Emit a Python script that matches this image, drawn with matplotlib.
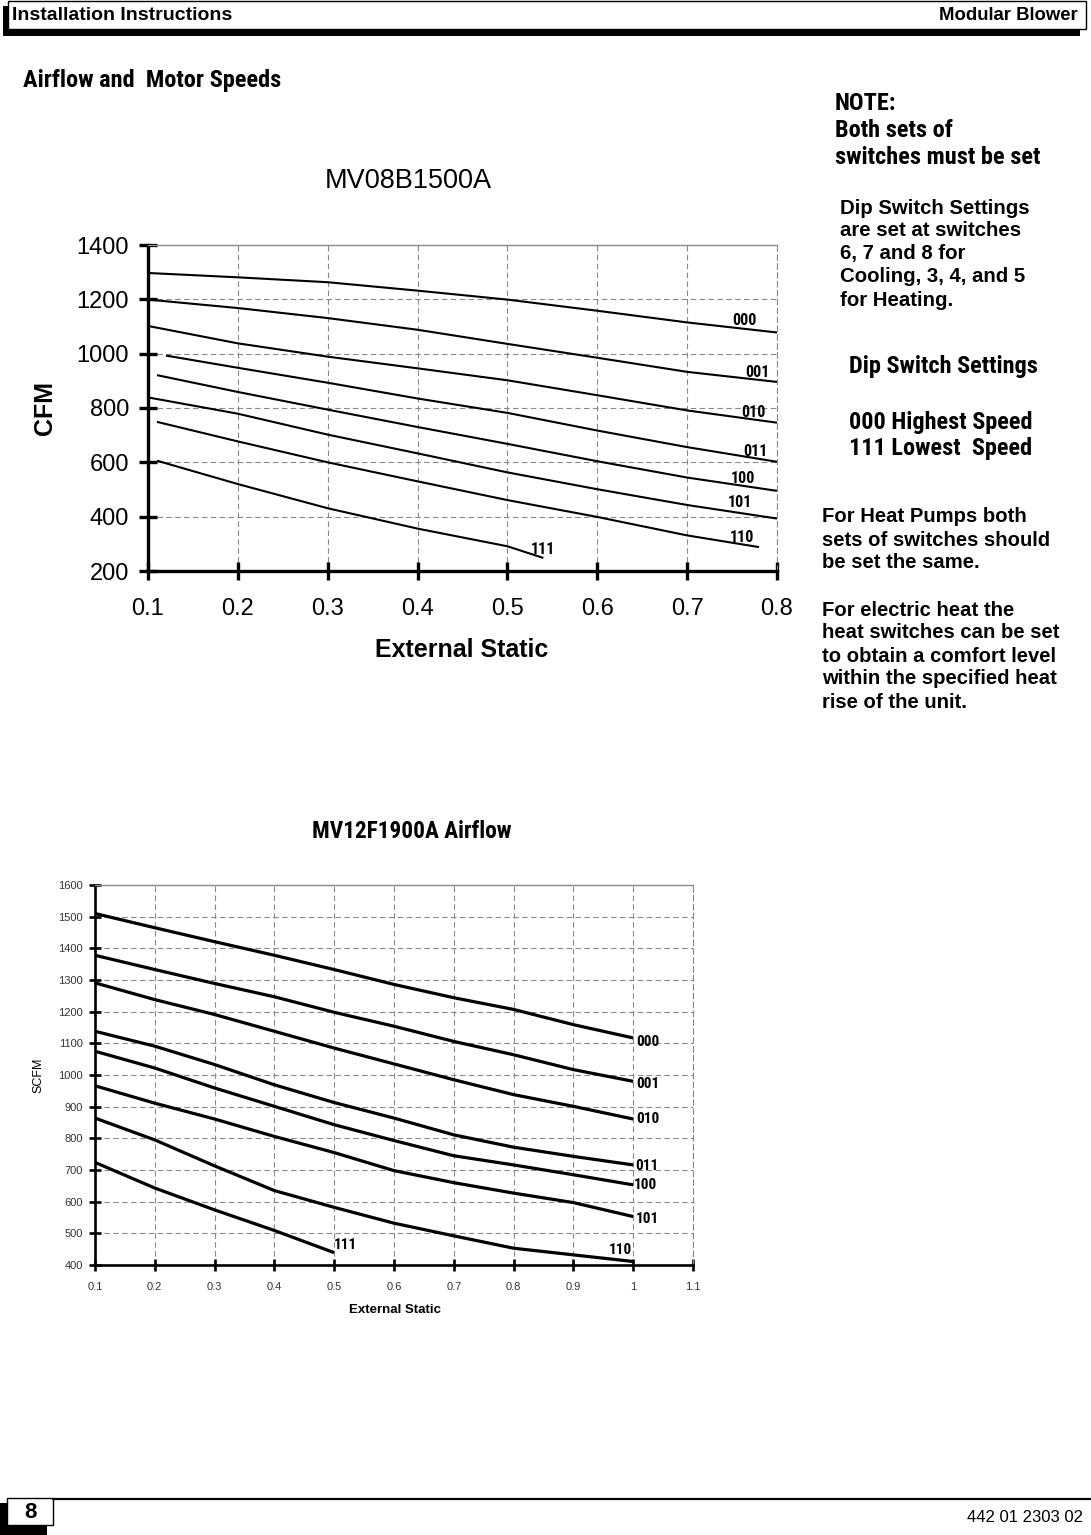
import matplotlib
matplotlib.use('Agg')
import matplotlib.pyplot as plt
from matplotlib import font_manager
from matplotlib.patches import Rectangle

# ---- data: MV08B1500A (CFM vs external static)
top_x = [0.1, 0.2, 0.3, 0.4, 0.5, 0.6, 0.7, 0.8]
top_000 = [1297, 1281, 1263, 1232, 1199, 1158, 1115, 1078]
top_001 = [1199, 1168, 1131, 1088, 1036, 985, 933, 896]
top_010 = [1102, 1038, 989, 946, 902, 847, 791, 746]
top_011_x = [0.12, 0.2, 0.3, 0.4, 0.5, 0.6, 0.7, 0.8]
top_011 = [993, 948, 893, 835, 782, 717, 656, 602]
top_100_x = [0.11, 0.2, 0.3, 0.4, 0.5, 0.6, 0.7, 0.8]
top_100 = [921, 859, 794, 730, 668, 604, 544, 495]
top_101 = [839, 779, 702, 633, 563, 501, 443, 393]
top_110_x = [0.11, 0.2, 0.3, 0.4, 0.5, 0.6, 0.7, 0.78]
top_110 = [749, 677, 600, 530, 461, 399, 331, 288]
top_111_x = [0.11, 0.2, 0.3, 0.4, 0.5, 0.54]
top_111 = [606, 520, 431, 356, 291, 248]

# ---- data: MV12F1900A (SCFM vs external static)
bot_x = [0.1, 0.2, 0.3, 0.4, 0.5, 0.6, 0.7, 0.8, 0.9, 1.0]
bot_000 = [1510, 1465, 1421, 1378, 1333, 1286, 1244, 1207, 1159, 1117]
bot_001 = [1378, 1333, 1289, 1247, 1198, 1154, 1106, 1064, 1017, 980]
bot_010 = [1291, 1238, 1191, 1138, 1085, 1035, 985, 938, 901, 861]
bot_011 = [1138, 1091, 1033, 969, 913, 864, 811, 772, 743, 716]
bot_100 = [1075, 1022, 959, 901, 843, 793, 745, 716, 685, 653]
bot_101 = [966, 911, 861, 806, 755, 698, 660, 627, 597, 553]
bot_110 = [864, 795, 713, 635, 582, 532, 492, 453, 432, 411]
bot_111_x = [0.1, 0.2, 0.3, 0.4, 0.5]
bot_111 = [724, 643, 574, 509, 439]

top_xticks = [0.1, 0.2, 0.3, 0.4, 0.5, 0.6, 0.7, 0.8]
top_yticks = [200, 400, 600, 800, 1000, 1200, 1400]
bot_xticks = [0.1, 0.2, 0.3, 0.4, 0.5, 0.6, 0.7, 0.8, 0.9, 1.0, 1.1]
bot_xticklabels = ['0.1', '0.2', '0.3', '0.4', '0.5', '0.6', '0.7', '0.8', '0.9', '1', '1.1']
bot_yticks = list(range(400, 1700, 100))

names = {f.name for f in font_manager.fontManager.ttflist}
SANS = 'Liberation Sans' if 'Liberation Sans' in names else 'DejaVu Sans'

# look for a condensed bold face; sizes below are tuned for Liberation Sans Bold
NARROW, STRETCH, CF = SANS, 'normal', 1.0
for nm, fac in [('Liberation Sans Narrow', 1.2), ('Arial Narrow', 1.2), ('Roboto Condensed', 1.15),
                ('Noto Sans Condensed', 1.12), ('Open Sans Condensed', 1.1)]:
    if nm in names:
        NARROW, CF = nm, fac
        break
else:
    for f in font_manager.fontManager.ttflist:
        if f.name == 'DejaVu Sans' and 'condensed' in str(f.stretch):
            NARROW, STRETCH, CF = 'DejaVu Sans', 'condensed', 1.0
            break
plt.rcParams['font.family'] = SANS


def ctext(ax, x, y, s, size, **kw):
    ax.text(x, y, s, family=NARROW, fontstretch=STRETCH, fontsize=size * CF, fontweight='bold', **kw)


W, H = 1091, 1535
fig = plt.figure(figsize=(W / 100, H / 100), dpi=100)

# page layer in pixel coordinates
pg = fig.add_axes([0, 0, 1, 1], zorder=0)
pg.set_xlim(0, W)
pg.set_ylim(H, 0)
pg.axis('off')

# header bar
pg.add_patch(Rectangle((3, 6), 1077, 30, facecolor='black', edgecolor='none'))
pg.add_patch(Rectangle((8, 1), 1078, 28, facecolor='white', edgecolor='black', lw=1))
pg.text(12, 15, 'Installation Instructions', fontsize=14, fontweight='bold', va='center')
pg.text(1078, 15, 'Modular Blower', fontsize=13.3, fontweight='bold', va='center', ha='right')

# footer
pg.plot([53, W], [1499, 1499], color='black', lw=1.6)
pg.add_patch(Rectangle((0, 1503), 47, 32, facecolor='black', edgecolor='none'))
pg.add_patch(Rectangle((7, 1498), 46, 27, facecolor='white', edgecolor='black', lw=1))
pg.text(30, 1512, '8', fontsize=16, fontweight='bold', ha='center', va='center')
pg.text(1083, 1518, '442 01 2303 02', fontsize=12, ha='right', va='center')

ctext(pg, 23, 80, 'Airflow and  Motor Speeds', 15.3, va='center')

# right column notes
for i, s in enumerate(['NOTE:', 'Both sets of', 'switches must be set']):
    ctext(pg, 835, 103 + i * 27.5, s, 15.3, va='center')
for i, s in enumerate(['Dip Switch Settings', 'are set at switches', '6, 7 and 8 for',
                       'Cooling, 3, 4, and 5', 'for Heating.']):
    pg.text(840, 208 + i * 23, s, fontsize=14.7, fontweight='bold', va='center')
ctext(pg, 849, 366, 'Dip Switch Settings', 15.2, va='center')
ctext(pg, 849, 422, '000 Highest Speed', 15.2, va='center')
ctext(pg, 849, 449, '111 Lowest  Speed', 15.2, va='center')
for i, s in enumerate(['For Heat Pumps both', 'sets of switches should', 'be set the same.']):
    pg.text(822, 517 + i * 23, s, fontsize=14.6, fontweight='bold', va='center')
for i, s in enumerate(['For electric heat the', 'heat switches can be set', 'to obtain a comfort level',
                       'within the specified heat', 'rise of the unit.']):
    pg.text(822, 610 + i * 23, s, fontsize=14.6, fontweight='bold', va='center')

# chart titles / axis labels
pg.text(408, 181, 'MV08B1500A', fontsize=19.5, ha='center', va='center')
pg.text(45, 408, 'CFM', fontsize=18, fontweight='bold', rotation=90, ha='center', va='center')
pg.text(462, 650, 'External Static', fontsize=18, fontweight='bold', ha='center', va='center')
ctext(pg, 412, 832, 'MV12F1900A Airflow', 14.6, ha='center', va='center')
pg.text(38, 1075, 'SCFM', fontsize=9, rotation=90, ha='center', va='center')
pg.text(395, 1310, 'External Static', fontsize=9.5, fontweight='bold', ha='center', va='center')


def box(l, t, r, b):
    return [l / W, 1 - b / H, (r - l) / W, (b - t) / H]


def style(ax, spw, tlen, tsize, pad):
    ax.grid(True, linestyle=(0, (5, 3)), color='#8a8a8a', linewidth=0.8)
    ax.set_axisbelow(True)
    for s in ('left', 'bottom'):
        ax.spines[s].set_linewidth(spw)
        ax.spines[s].set_color('black')
    ax.spines['top'].set_linestyle((0, (1, 1)))
    ax.spines['top'].set_color('#8a8a8a')
    ax.spines['top'].set_linewidth(1.0)
    ax.spines['right'].set_linestyle((0, (5, 3)))
    ax.spines['right'].set_color('#8a8a8a')
    ax.spines['right'].set_linewidth(0.8)
    ax.tick_params(direction='inout', length=tlen, width=spw, labelsize=tsize, pad=pad)
    ax.set_facecolor('none')


# ---- top chart
ax1 = fig.add_axes(box(148, 245, 777, 571), zorder=1)
ax1.set_xlim(0.1, 0.8)
ax1.set_ylim(200, 1400)
ax1.set_xticks(top_xticks)
ax1.set_xticklabels(['%.1f' % v for v in top_xticks])
ax1.set_yticks(top_yticks)
style(ax1, 2.4, 13, 17, 7)
ax1.tick_params(axis='x', pad=13)
top_series = [
    (top_x, top_000, '000', (-33, 12)),
    (top_x, top_001, '001', (-20, 9)),
    (top_x, top_010, '010', (-24, 10)),
    (top_011_x, top_011, '011', (-22, 10)),
    (top_100_x, top_100, '100', (-34, 12)),
    (top_x, top_101, '101', (-37, 16)),
    (top_110_x, top_110, '110', (-17, 10)),
    (top_111_x, top_111, '111', (0, 8)),
]
for xs, ys, lab, off in top_series:
    ax1.plot(xs, ys, color='black', lw=1.5, solid_capstyle='butt')
    ax1.annotate(lab, (xs[-1], ys[-1]), xytext=off, textcoords='offset pixels',
                 family=NARROW, fontstretch=STRETCH, fontsize=10 * CF, fontweight='bold',
                 ha='center', va='center')

# ---- bottom chart
ax2 = fig.add_axes(box(95, 885, 693, 1265), zorder=1)
ax2.set_xlim(0.1, 1.1)
ax2.set_ylim(400, 1600)
ax2.set_xticks(bot_xticks)
ax2.set_xticklabels(bot_xticklabels)
ax2.set_yticks(bot_yticks)
style(ax2, 1.9, 9, 8, 4)
ax2.tick_params(axis='x', pad=8)
ax2.tick_params(colors='black', labelcolor='#333333')
bot_series = [
    (bot_x, bot_000, '000', (15, -4)),
    (bot_x, bot_001, '001', (15, -3)),
    (bot_x, bot_010, '010', (15, 0)),
    (bot_x, bot_011, '011', (14, -1)),
    (bot_x, bot_100, '100', (12, 0)),
    (bot_x, bot_101, '101', (14, -2)),
    (bot_x, bot_110, '110', (-13, 12)),
    (bot_111_x, bot_111, '111', (11, 8)),
]
for xs, ys, lab, off in bot_series:
    ax2.plot(xs, ys, color='black', lw=2.3, solid_capstyle='butt')
    ax2.annotate(lab, (xs[-1], ys[-1]), xytext=off, textcoords='offset pixels',
                 family=NARROW, fontstretch=STRETCH, fontsize=9.5 * CF, fontweight='bold',
                 ha='center', va='center')

fig.savefig('out.png', dpi=100)
